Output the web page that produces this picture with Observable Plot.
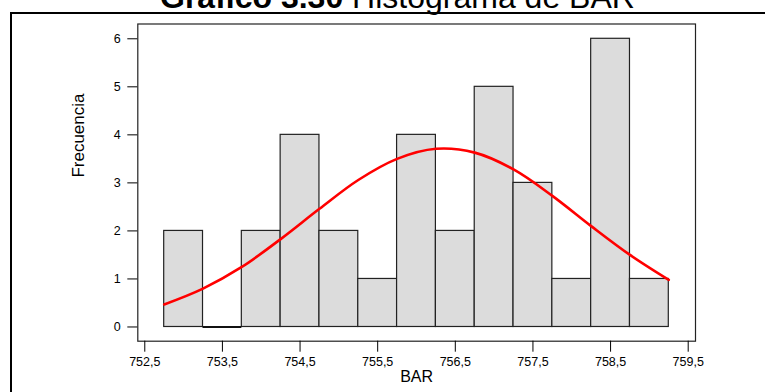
<!DOCTYPE html>
<html>
<head>
<meta charset="utf-8">
<script src="https://cdn.jsdelivr.net/npm/d3@7"></script>
<script src="https://cdn.jsdelivr.net/npm/@observablehq/plot@0.6"></script>
<style>
  html, body { margin: 0; padding: 0; background: #fff; overflow: hidden; }
  #wrap { position: relative; width: 765px; height: 392px; overflow: hidden; }
  #outer { position: absolute; left: 10px; top: 12px; width: 900px; height: 600px; border: 2px solid #000; box-sizing: border-box; }
  #title { position: absolute; left: 160px; top: -19px; font: 32px/32px "Liberation Sans", Arial, sans-serif; white-space: nowrap; color: #000; }
  #chart { position: absolute; left: 0; top: 0; }
</style>
</head>
<body>
<div id="wrap">
  <div id="outer"></div>
  <div id="title"><b>Gráfico 3.30</b> Histograma de BAR</div>
  <div id="chart"></div>
</div>
<script>
// Histogram bins (centres) and frequencies
const binCenters = [753.0, 753.5, 754.0, 754.5, 755.0, 755.5, 756.0, 756.5, 757.0, 757.5, 758.0, 758.5, 759.0];
const counts     = [2, 0, 2, 4, 2, 1, 4, 2, 5, 3, 1, 6, 1];
const binWidth = 0.5;

// Fitted normal curve
const curveX = [752.75, 753.25, 753.75, 754.25, 754.75, 755.25, 755.75, 756.25, 756.75, 757.25, 757.75, 758.25, 758.75, 759.25];
const curveY = [0.47, 0.80, 1.25, 1.83, 2.46, 3.06, 3.50, 3.71, 3.63, 3.28, 2.73, 2.10, 1.50, 0.98];

const xTicks = [752.5, 753.5, 754.5, 755.5, 756.5, 757.5, 758.5, 759.5];
const yTicks = [0, 1, 2, 3, 4, 5, 6];

const bars = binCenters.map((c, i) => ({x1: c - binWidth / 2, x2: c + binWidth / 2, y: counts[i]}));
const emptyBins = bars.filter(d => d.y === 0);
const curve = curveX.map((x, i) => ({x, y: curveY[i]}));

const fmtX = d => d.toFixed(1).replace(".", ",");
const fmtY = d => String(d);

const chart = Plot.plot({
  width: 765,
  height: 392,
  marginLeft: 137.3,
  marginRight: 70,
  marginTop: 23.5,
  marginBottom: 51.3,
  style: {fontFamily: "'Liberation Sans', Arial, sans-serif", fontSize: "12.5px", color: "#000", background: "transparent"},
  x: {domain: [752.41, 759.594]},
  y: {domain: [-0.296, 6.308]},
  marks: [
    Plot.frame({stroke: "#222", strokeWidth: 1.2}),
    Plot.rectY(bars, {x1: "x1", x2: "x2", y: "y", fill: "#dcdcdc", stroke: "#222", strokeWidth: 1.2}),
    Plot.ruleY(emptyBins, {x1: "x1", x2: "x2", y: "y", stroke: "#111", strokeWidth: 2}),
    Plot.line(curve, {x: "x", y: "y", stroke: "#ff0000", strokeWidth: 2.6, curve: "catmull-rom"}),
    Plot.axisX({ticks: xTicks, tickFormat: fmtX, tickSize: 11, tickPadding: 5, label: null, stroke: "#000"}),
    Plot.axisY({ticks: yTicks, tickFormat: fmtY, tickSize: 10, tickPadding: 7, label: null, stroke: "#000"}),
    Plot.text(["BAR"], {frameAnchor: "bottom", dy: 41, fontSize: 16, fill: "#000"}),
    Plot.text(["Frecuencia"], {frameAnchor: "left", dx: -59, dy: -5, rotate: -90, fontSize: 17, fill: "#000"})
  ]
});
document.getElementById("chart").appendChild(chart);
</script>
</body>
</html>
